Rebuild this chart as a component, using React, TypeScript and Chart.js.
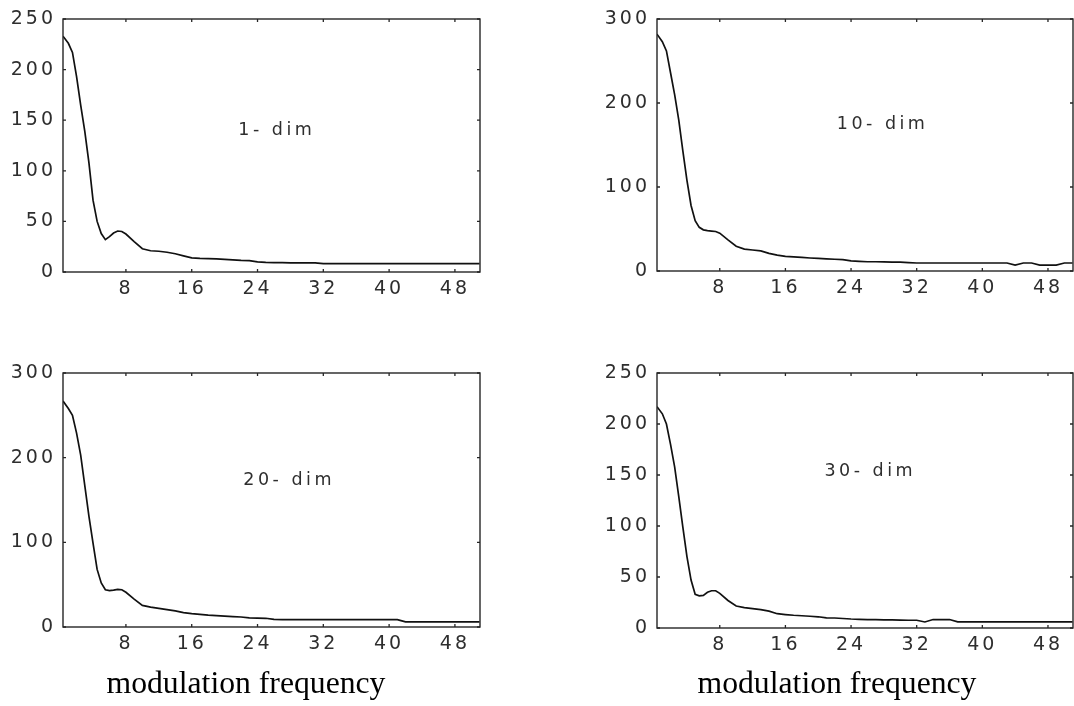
import React, { useEffect, useRef } from "react";
import { Chart, registerables } from "chart.js";

Chart.register(...registerables);

// ---- data ----
const frequency = [
  0.35, 1, 1.5, 2, 2.5, 3, 3.5, 4, 4.5, 5, 5.5, 6, 6.5, 7, 7.5, 8,
  9, 10, 11, 12, 13, 14, 15, 16, 17, 18, 19, 20, 21, 22, 23, 24, 25, 26, 27, 28, 29, 30, 31,
  32, 33, 34, 35, 36, 37, 38, 39, 40, 41, 42, 43, 44, 45, 46, 47, 48, 49, 50, 51,
];

const dim1 = [
  233, 226, 217, 193, 165, 139, 108, 71, 50, 38, 32, 35, 38.5, 40.5, 40, 37.5,
  30, 23, 21, 20.5, 19.5, 18, 16, 14, 13.5, 13.2, 13, 12.5, 12, 11.5, 11.2, 10, 9.5, 9.3, 9.2, 9, 9, 9, 9,
  8.3, 8.3, 8.3, 8.3, 8.3, 8.3, 8.3, 8.3, 8.3, 8.3, 8.3, 8.3, 8.3, 8.3, 8.3, 8.3, 8.3, 8.3, 8.3, 8.3,
];

const dim10 = [
  282, 273, 262, 236, 210, 180, 143, 108, 78, 60, 52, 49, 48, 47.5, 47, 45,
  37, 29.5, 26, 25, 24, 21, 19, 17.5, 16.8, 16.2, 15.5, 15, 14.5, 14, 13.5, 12, 11.5, 11, 11, 10.8, 10.5, 10.5, 10,
  9.5, 9.5, 9.5, 9.5, 9.5, 9.5, 9.5, 9.5, 9.5, 9.5, 9.5, 9.5, 7, 9.5, 9.5, 7, 7, 7, 9.5, 9.5,
];

const dim20 = [
  267, 258, 250, 229, 203, 167, 131, 99, 68, 52, 44, 43, 43.5, 44.5, 44, 41,
  33, 25.5, 23.5, 22, 20.5, 19, 17, 15.8, 15, 14, 13.5, 12.8, 12.3, 11.8, 10.7, 10.5, 10.3, 9, 8.7, 8.7, 8.7, 8.7, 8.7,
  8.7, 8.7, 8.7, 8.7, 8.7, 8.7, 8.7, 8.7, 8.7, 8.7, 6, 6, 6, 6, 6, 6, 6, 6, 6, 6,
];

const dim30 = [
  217, 210, 200, 180, 158, 129, 99, 70, 47, 33, 31.5, 32, 35, 36.5, 36.5, 34,
  27, 21.5, 20, 19, 18, 16.5, 14, 13.2, 12.5, 12, 11.5, 11, 10, 9.8, 9.3, 8.8, 8.5, 8.3, 8.2, 8, 8, 7.8, 7.6,
  7.6, 5.9, 8.3, 8.3, 8.3, 6, 6, 6, 6, 6, 6, 6, 6, 6, 6, 6, 6, 6, 6, 6,
];

const xTickValues = [8, 16, 24, 32, 40, 48];
const xTickLabels = ["8", "16", "24", "32", "40", "48"];
const yTicks250 = [0, 50, 100, 150, 200, 250];
const yTicks300 = [0, 100, 200, 300];
const panelTitles = ["1- dim", "10- dim", "20- dim", "30- dim"];
const xAxisTitle = "modulation frequency";

const X_MIN = 0.35;
const X_MAX = 51.05;

type PanelCfg = {
  values: number[];
  title: string;
  titleAt: [number, number];
  yMax: number;
  yTicks: number[];
  area: { left: number; top: number; right: number; bottom: number };
};

const panels: PanelCfg[] = [
  { values: dim1, title: panelTitles[0], titleAt: [26.1, 140], yMax: 250, yTicks: yTicks250, area: { left: 63, top: 19, right: 480, bottom: 272 } },
  { values: dim10, title: panelTitles[1], titleAt: [27.6, 175], yMax: 300, yTicks: yTicks300, area: { left: 657, top: 19, right: 1073, bottom: 271 } },
  { values: dim20, title: panelTitles[2], titleAt: [27.6, 173], yMax: 300, yTicks: yTicks300, area: { left: 63, top: 373, right: 480, bottom: 627 } },
  { values: dim30, title: panelTitles[3], titleAt: [26.1, 153], yMax: 250, yTicks: yTicks250, area: { left: 657, top: 373, right: 1073, bottom: 628 } },
];

const PAD_L = 63;
const PAD_T = 19;
const PAD_R = 4;
const PAD_B = 40;
const TEXT_COLOR = "#2e2e2e";
const FRAME_COLOR = "#262626";
const SPACING = "3px";

function Panel({ cfg }: { cfg: PanelCfg }) {
  const ref = useRef<HTMLCanvasElement | null>(null);
  const w = PAD_L + (cfg.area.right - cfg.area.left) + PAD_R;
  const h = PAD_T + (cfg.area.bottom - cfg.area.top) + PAD_B;

  useEffect(() => {
    if (!ref.current) return;
    const framePlugin = {
      id: "frame",
      beforeDraw(chart: any) {
        (chart.ctx as any).letterSpacing = SPACING;
      },
      afterDraw(chart: any) {
        const ctx = chart.ctx as CanvasRenderingContext2D;
        const a = chart.chartArea;
        const xs = chart.scales.x;
        const ys = chart.scales.y;
        ctx.save();
        ctx.strokeStyle = FRAME_COLOR;
        ctx.lineWidth = 1.4;
        ctx.strokeRect(a.left, a.top, a.right - a.left, a.bottom - a.top);
        ctx.lineWidth = 1.3;
        ctx.beginPath();
        xTickValues.forEach((v) => {
          const px = xs.getPixelForValue(v);
          ctx.moveTo(px, a.bottom);
          ctx.lineTo(px, a.bottom - 3);
          ctx.moveTo(px, a.top);
          ctx.lineTo(px, a.top + 3);
        });
        cfg.yTicks.forEach((v) => {
          const py = ys.getPixelForValue(v);
          ctx.moveTo(a.left, py);
          ctx.lineTo(a.left + 3, py);
          ctx.moveTo(a.right, py);
          ctx.lineTo(a.right - 3, py);
        });
        ctx.stroke();
        (ctx as any).letterSpacing = "3.5px";
        ctx.fillStyle = TEXT_COLOR;
        ctx.font = "17.5px 'DejaVu Sans'";
        ctx.textAlign = "center";
        ctx.textBaseline = "middle";
        ctx.fillText(cfg.title, xs.getPixelForValue(cfg.titleAt[0]) + 2, ys.getPixelForValue(cfg.titleAt[1]));
        ctx.restore();
        (ctx as any).letterSpacing = "0px";
      },
    };

    const chart = new Chart(ref.current, {
      type: "line",
      data: {
        datasets: [
          {
            data: frequency.map((x, i) => ({ x, y: cfg.values[i] })),
            borderColor: "#111111",
            borderWidth: 1.7,
            pointRadius: 0,
            tension: 0,
            fill: false,
          },
        ],
      },
      options: {
        animation: false,
        responsive: false,
        maintainAspectRatio: false,
        events: [],
        layout: { padding: { top: PAD_T, right: PAD_R, left: 0, bottom: 0 } },
        plugins: { legend: { display: false }, tooltip: { enabled: false } },
        scales: {
          x: {
            type: "linear",
            min: X_MIN,
            max: X_MAX,
            afterBuildTicks: (s: any) => {
              s.ticks = xTickValues.map((v) => ({ value: v }));
            },
            afterFit: (s: any) => {
              s.height = PAD_B;
            },
            grid: { display: false, drawTicks: false },
            border: { display: false },
            ticks: {
              padding: 6,
              autoSkip: false,
              maxRotation: 0,
              color: TEXT_COLOR,
              font: { family: "'DejaVu Sans'", size: 19 },
              callback: (_v: any, i: number) => xTickLabels[i],
            },
          },
          y: {
            type: "linear",
            min: 0,
            max: cfg.yMax,
            afterBuildTicks: (s: any) => {
              s.ticks = cfg.yTicks.map((v) => ({ value: v }));
            },
            afterFit: (s: any) => {
              s.width = PAD_L;
            },
            grid: { display: false, drawTicks: false },
            border: { display: false },
            ticks: {
              padding: 7,
              autoSkip: false,
              color: TEXT_COLOR,
              font: { family: "'DejaVu Sans'", size: 19 },
              callback: (v: any) => String(v),
            },
          },
        },
      },
      plugins: [framePlugin],
    } as any);
    return () => chart.destroy();
  }, [cfg]);

  return (
    <canvas
      ref={ref}
      width={w}
      height={h}
      style={{ position: "absolute", left: cfg.area.left - PAD_L, top: cfg.area.top - PAD_T, width: w, height: h }}
    />
  );
}

export default function App() {
  const titleStyle: React.CSSProperties = {
    position: "absolute",
    top: 665,
    height: 36,
    lineHeight: "36px",
    fontFamily: "'Liberation Serif', 'Times New Roman', serif",
    fontSize: 31.7,
    color: "#000",
    whiteSpace: "nowrap",
    transform: "translateX(-50%)",
  };
  return (
    <div style={{ position: "absolute", left: 0, top: 0, width: 1074, height: 706, overflow: "hidden", background: "#fff" }}>
      {panels.map((p, i) => (
        <Panel key={i} cfg={p} />
      ))}
      <div style={{ ...titleStyle, left: 246 }}>{xAxisTitle}</div>
      <div style={{ ...titleStyle, left: 837 }}>{xAxisTitle}</div>
    </div>
  );
}
